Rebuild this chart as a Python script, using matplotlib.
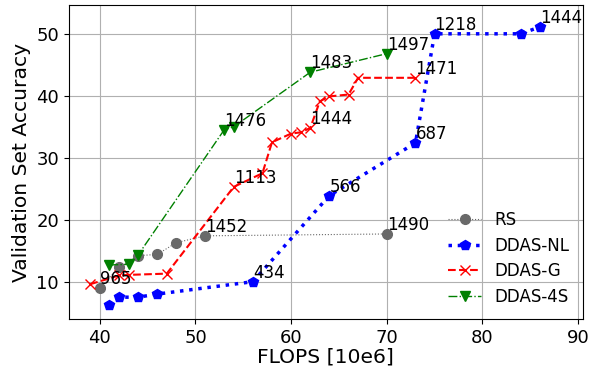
import matplotlib
matplotlib.use("Agg")
import matplotlib.pyplot as plt

# RS
rs_flops = [40, 42, 44, 46, 48, 51, 70]
rs_acc = [9.0, 12.3, 14.2, 14.4, 16.3, 17.4, 17.7]
rs_labels = {0: "965", 5: "1452", 6: "1490"}

# DDAS-NL
nl_flops = [41, 42, 44, 46, 56, 64, 73, 75, 84, 86]
nl_acc = [6.3, 7.5, 7.5, 8.0, 10.0, 23.9, 32.4, 50.0, 50.0, 51.1]
nl_labels = {4: "434", 5: "566", 6: "687", 7: "1218", 9: "1444"}

# DDAS-G
g_flops = [39, 42, 43, 47, 54, 57, 58, 60, 61, 62, 63, 64, 66, 67, 73]
g_acc = [9.6, 11.0, 11.1, 11.3, 25.3, 27.5, 32.5, 33.9, 34.1, 34.8,
         39.1, 39.9, 40.2, 42.9, 42.9]
g_labels = {4: "1113", 9: "1444", 14: "1471"}

# DDAS-4S
s4_flops = [41, 43, 44, 53, 54, 62, 70]
s4_acc = [12.7, 12.8, 14.3, 34.5, 35.0, 43.8, 46.8]
s4_labels = {3: "1476", 5: "1483", 6: "1497"}

fig, ax = plt.subplots(figsize=(5.96, 3.68), dpi=100)
fig.subplots_adjust(left=0.1153, right=0.978, top=0.9856, bottom=0.1335)

ax.plot(rs_flops, rs_acc, color="dimgray", linestyle=":", linewidth=0.8,
        marker="o", markersize=7, label="RS")
ax.plot(nl_flops, nl_acc, color="blue", linestyle=":", linewidth=2.5,
        marker="p", markersize=7, label="DDAS-NL")
ax.plot(g_flops, g_acc, color="red", linestyle="--", linewidth=1.5,
        marker="x", markersize=7, label="DDAS-G")
ax.plot(s4_flops, s4_acc, color="green", linestyle="-.", linewidth=1.0,
        marker="v", markersize=7, label="DDAS-4S")

# run numbers next to some of the points
for xs, ys, labels in [(rs_flops, rs_acc, rs_labels), (nl_flops, nl_acc, nl_labels),
                       (g_flops, g_acc, g_labels), (s4_flops, s4_acc, s4_labels)]:
    for i, txt in labels.items():
        ax.text(xs[i], ys[i], txt, fontsize=12, ha="left", va="bottom")

ax.set_xlim(36.75, 90.5)
ax.set_ylim(4.0, 54.6)
ax.set_xticks([40, 50, 60, 70, 80, 90])
ax.set_yticks([10, 20, 30, 40, 50])
ax.tick_params(labelsize=13)
ax.grid(True)
ax.set_xlabel("FLOPS [10e6]", fontsize=14.6, labelpad=1)
ax.set_ylabel("Validation Set Accuracy", fontsize=14.6)
ax.legend(loc="lower right", frameon=False, fontsize=12,
          borderaxespad=0.4, labelspacing=0.45)

fig.savefig("out.png", dpi=100)
